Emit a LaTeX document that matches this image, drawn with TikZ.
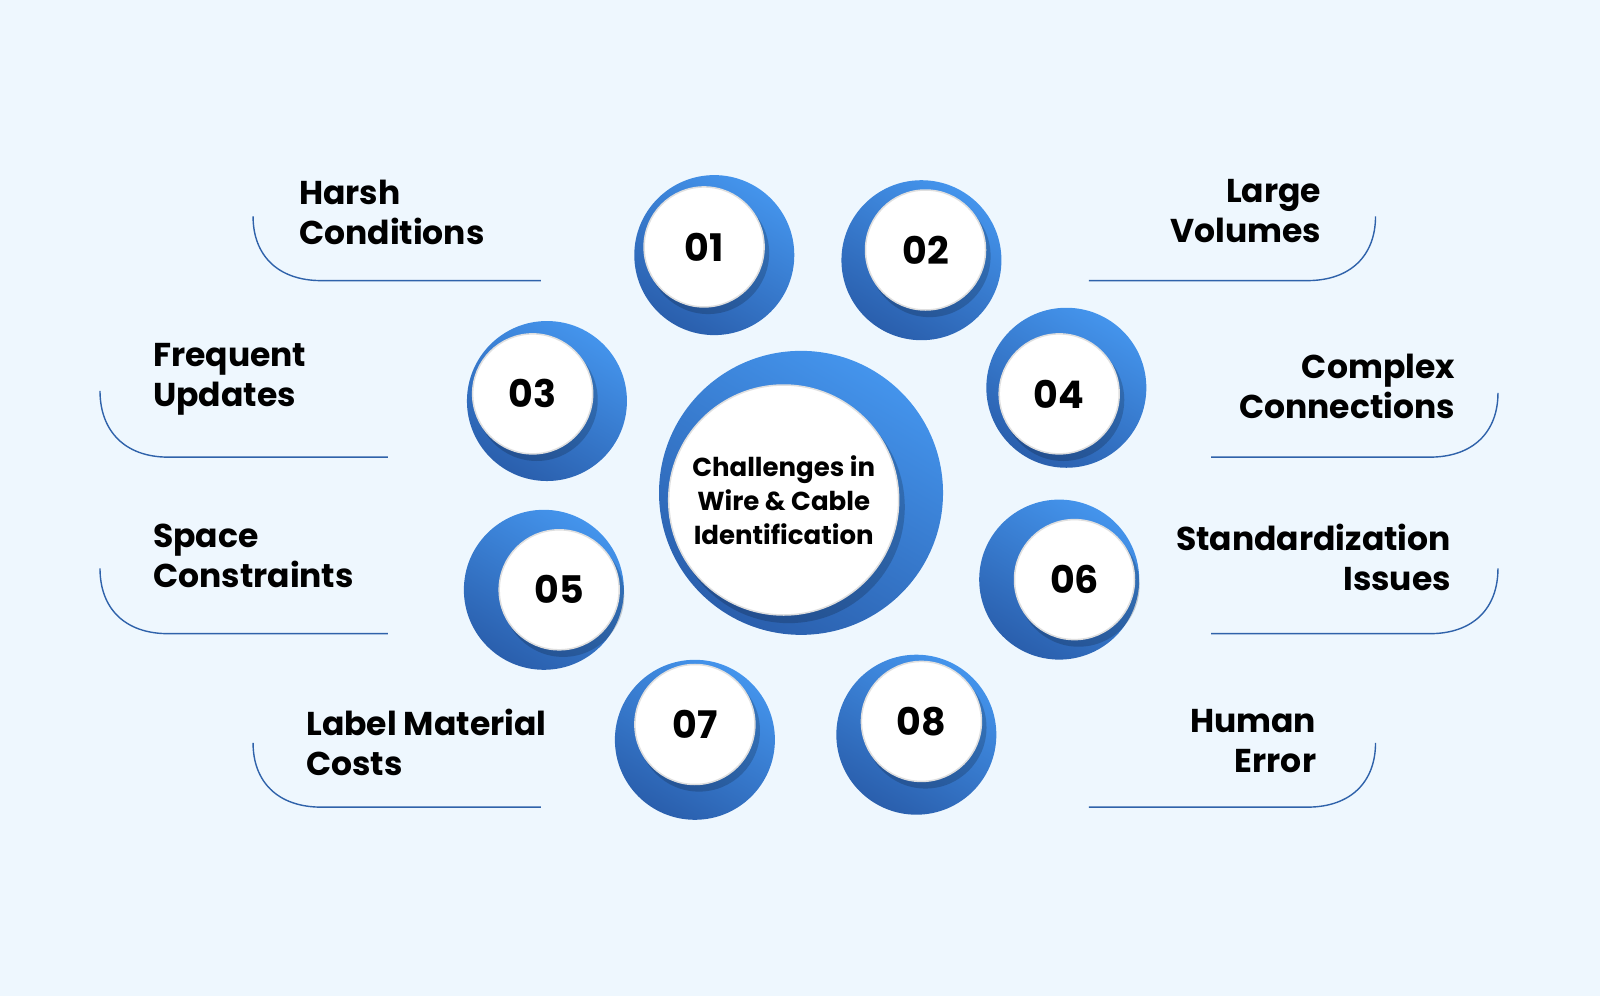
\documentclass[tikz,border=0pt]{standalone}
\usepackage{fontspec}
\setmainfont{Poppins}
\definecolor{bg}{HTML}{EEF7FE}
\definecolor{lb}{HTML}{4494EC}
\definecolor{db}{HTML}{2A5FAD}
\definecolor{ln}{HTML}{2F62AA}
\begin{document}
\begin{tikzpicture}[x=1.0204pt,y=-1.0204pt,
  disk/.style={circle,minimum size=#1,inner sep=0pt,shading=axis,top color=lb,bottom color=db,shading angle=-30},
  wdisk/.style={circle,minimum size=#1,inner sep=0pt,fill=white,draw=gray!25,line width=1.5pt,font=\fontsize{38}{40}\selectfont\bfseries},
  shd/.style={circle,minimum size=#1,inner sep=0pt,fill=black,opacity=0.18},
  lab/.style={font=\fontsize{33}{40}\selectfont\bfseries,inner sep=0pt,anchor=north west,align=left},
  labr/.style={font=\fontsize{33}{40}\selectfont\bfseries,inner sep=0pt,anchor=north east,align=right},
  br/.style={draw=ln,line width=1.4pt}]
\fill[bg] (0,0) rectangle (1568,976);
\useasboundingbox (0,0) rectangle (1568,976);
% centre
\node[disk=284pt] (cb) at (785,483) {};
\node[shd=232pt] at (773,497) {};
\node[wdisk=230pt,font=\fontsize{26}{34}\selectfont\bfseries,align=center] (cw) at (768,490) {Challenges in\\Wire \& Cable\\Identification};
% items
\foreach \n/\bx/\by/\wx/\wy in {01/700/250/690/242, 02/903/255/907/245, 03/536/393/522/386, 04/1045/380/1038/386, 05/533/578/548/578, 06/1038/568/1053/568, 07/681/725/681/710, 08/898/720/903/707}{
  \node[disk=160pt] (b\n) at (\bx,\by) {};
  \node[shd=122pt] at (\wx+4,\wy+6) {};
  \node[wdisk=120pt] (w\n) at (\wx,\wy) {\n};
}
% labels
\node[lab] (t1) at (293,176) {Harsh\\Conditions};
\draw[br] (248,212) .. controls (248,250) and (272,275) .. (315,275) -- (530,275);
\node[labr] (t2) at (1295,176) {Large\\Volumes};
\draw[br] (1348,212) .. controls (1348,250) and (1324,275) .. (1281,275) -- (1067,275);
\node[lab] (t3) at (150,336) {Frequent\\Updates};
\draw[br] (98,383) .. controls (98,422) and (122,448) .. (165,448) -- (380,448);
\node[labr] (t4) at (1426,347) {Complex\\Connections};
\draw[br] (1468,385) .. controls (1468,423) and (1444,448) .. (1401,448) -- (1187,448);
\node[lab] (t5) at (150,513) {Space\\Constraints};
\draw[br] (98,557) .. controls (98,596) and (122,621) .. (165,621) -- (380,621);
\node[labr] (t6) at (1422,513) {Standardization\\Issues};
\draw[br] (1468,557) .. controls (1468,596) and (1444,621) .. (1401,621) -- (1187,621);
\node[lab] (t7) at (300,695) {Label Material\\Costs};
\draw[br] (248,728) .. controls (248,766) and (272,791) .. (315,791) -- (530,791);
\node[labr] (t8) at (1290,695) {Human\\Error};
\draw[br] (1348,728) .. controls (1348,766) and (1324,791) .. (1281,791) -- (1067,791);
\end{tikzpicture}
\end{document}
